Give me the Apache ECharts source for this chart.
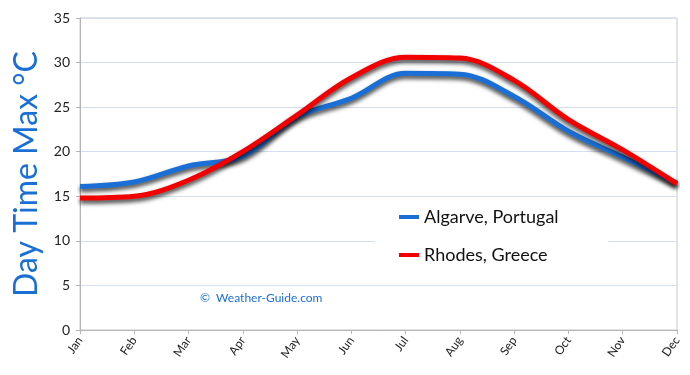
<!DOCTYPE html>
<html>
<head>
<meta charset="utf-8">
<script src="https://cdn.jsdelivr.net/npm/echarts@6/dist/echarts.min.js"></script>
<style>
  html, body { margin: 0; padding: 0; background: #fff; }
  #chart { width: 690px; height: 375px; }
</style>
</head>
<body>
<div id="chart"></div>
<script>
var months = ['Jan', 'Feb', 'Mar', 'Apr', 'May', 'Jun', 'Jul', 'Aug', 'Sep', 'Oct', 'Nov', 'Dec'];
var algarve = [16.1, 16.6, 18.4, 19.5, 23.9, 26.0, 28.8, 28.7, 26.2, 22.3, 19.4, 16.5];
var rhodes = [14.8, 15.0, 16.8, 20.0, 24.1, 28.3, 30.6, 30.5, 28.0, 23.6, 20.2, 16.4];
var yTicks = [0, 5, 10, 15, 20, 25, 30, 35];

var font = 'Lato, "DejaVu Sans", sans-serif';
var chart = echarts.init(document.getElementById('chart'));

function lineSeries(name, data, color) {
  return {
    name: name,
    type: 'line',
    data: data,
    smooth: 0.35,
    symbol: 'none',
    lineStyle: {
      color: color,
      width: 5,
      shadowColor: 'rgba(0,0,0,0.75)',
      shadowBlur: 4,
      shadowOffsetY: 3
    },
    itemStyle: { color: color }
  };
}

var option = {
  animation: false,
  grid: {
    left: 80, right: 13, top: 18, bottom: 45,
    outerBoundsMode: 'none',
    containLabel: false,
    show: true, borderColor: '#c8c8c8', borderWidth: 1
  },
  xAxis: {
    type: 'category',
    data: months,
    boundaryGap: false,
    axisLine: { lineStyle: { color: '#b4b4b4' } },
    axisTick: { alignWithLabel: true, length: 4, lineStyle: { color: '#b4b4b4' } },
    axisLabel: { rotate: 55, color: '#222', fontSize: 12, fontFamily: font, margin: 8, interval: 0 },
    splitLine: { show: false }
  },
  yAxis: {
    type: 'value',
    min: 0, max: 35, interval: 5,
    name: 'Day Time Max °C',
    nameLocation: 'middle',
    nameGap: 36,
    nameTextStyle: { color: '#1a6fd6', fontSize: 32, fontFamily: font },
    axisLine: { show: true, lineStyle: { color: '#b4b4b4' } },
    axisTick: { show: true, length: 4, lineStyle: { color: '#b4b4b4' } },
    axisLabel: {
      color: '#222', fontSize: 14, fontFamily: font, margin: 10,
      formatter: function (v) { return yTicks.indexOf(v) >= 0 ? String(v) : ''; }
    },
    splitLine: { lineStyle: { color: '#d4def2' } }
  },
  legend: {
    orient: 'vertical',
    left: 375, top: 198,
    width: 233,
    backgroundColor: '#fff',
    padding: [10, 50, 12, 24],
    itemGap: 20,
    icon: 'rect',
    itemWidth: 20, itemHeight: 4,
    textStyle: { color: '#111', fontSize: 18, fontFamily: font },
    data: ['Algarve, Portugal', 'Rhodes, Greece']
  },
  graphic: [{
    type: 'text',
    left: 200, top: 292,
    style: { text: '©  Weather-Guide.com', fill: '#1a6fd6', fontSize: 12, fontFamily: font }
  }],
  series: [
    lineSeries('Algarve, Portugal', algarve, '#1a6fd6'),
    lineSeries('Rhodes, Greece', rhodes, '#f20000')
  ]
};
chart.setOption(option);
</script>
</body>
</html>
